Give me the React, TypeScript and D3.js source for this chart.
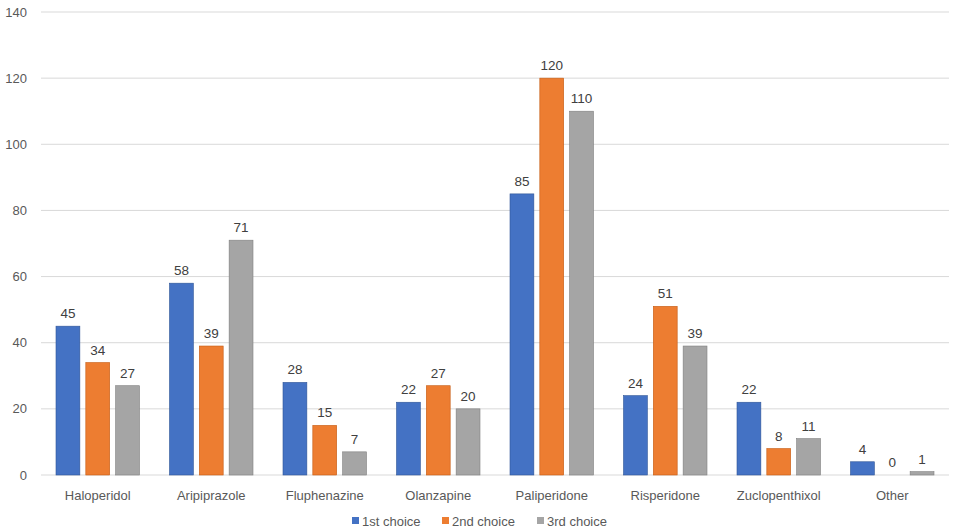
import React from 'react';
import * as d3 from 'd3';

const categories = ['Haloperidol', 'Aripiprazole', 'Fluphenazine', 'Olanzapine', 'Paliperidone', 'Risperidone', 'Zuclopenthixol', 'Other'];
const seriesNames = ['1st choice', '2nd choice', '3rd choice'];
const first = [45, 58, 28, 22, 85, 24, 22, 4];
const second = [34, 39, 15, 27, 120, 51, 8, 0];
const third = [27, 71, 7, 20, 110, 39, 11, 1];
const yTicks = [0, 20, 40, 60, 80, 100, 120, 140];

const colors = ['#4472C4', '#ED7D31', '#A5A5A5'];
const strokes = ['#2F5597', '#C55A11', '#7F7F7F'];
const font = '"Liberation Sans", Arial, sans-serif';

export default function App() {
  const width = 957;
  const height = 531;
  const margin = { top: 12, right: 8, bottom: 56, left: 41 };
  const values = [first, second, third];

  const x = d3.scaleBand().domain(categories).range([margin.left, width - margin.right]).paddingInner(0).paddingOuter(0);
  const inner = d3.scaleBand().domain(seriesNames).range([15, x.bandwidth() - 15]).paddingInner(0.2);
  const y = d3.scaleLinear().domain([0, 140]).range([height - margin.bottom, margin.top]);

  const legendX = [352, 442, 537];

  return (
    <svg width={width} height={height} style={{ position: 'absolute', left: 0, top: 0, background: '#fff' }} fontFamily={font}>
      {yTicks.map(t => (
        <g key={t}>
          <line x1={margin.left} x2={width - margin.right} y1={y(t)} y2={y(t)} stroke="#D9D9D9" strokeWidth={1} />
          <text x={27} y={y(t)} dy="0.35em" textAnchor="end" fontSize={13} fill="#595959">{t}</text>
        </g>
      ))}
      {categories.map((c, i) => (
        <g key={c} transform={`translate(${x(c)},0)`}>
          {seriesNames.map((s, j) => {
            const v = values[j][i];
            const bx = inner(s)!;
            return (
              <g key={s}>
                {v > 0 && (
                  <rect x={bx} y={y(v)} width={inner.bandwidth()} height={y(0) - y(v)} fill={colors[j]} stroke={strokes[j]} strokeWidth={0.6} />
                )}
                <text x={bx + inner.bandwidth() / 2} y={y(v) - 8} textAnchor="middle" fontSize={13.5} fill="#404040">{v}</text>
              </g>
            );
          })}
          <text x={x.bandwidth() / 2} y={y(0) + 20} dy="0.35em" textAnchor="middle" fontSize={13} fill="#595959">{c}</text>
        </g>
      ))}
      {seriesNames.map((s, j) => (
        <g key={s} transform={`translate(${legendX[j]},521)`}>
          <rect x={0} y={-4} width={7} height={7} fill={colors[j]} />
          <text x={10} y={0} dy="0.35em" fontSize={13} fill="#595959">{s}</text>
        </g>
      ))}
    </svg>
  );
}
